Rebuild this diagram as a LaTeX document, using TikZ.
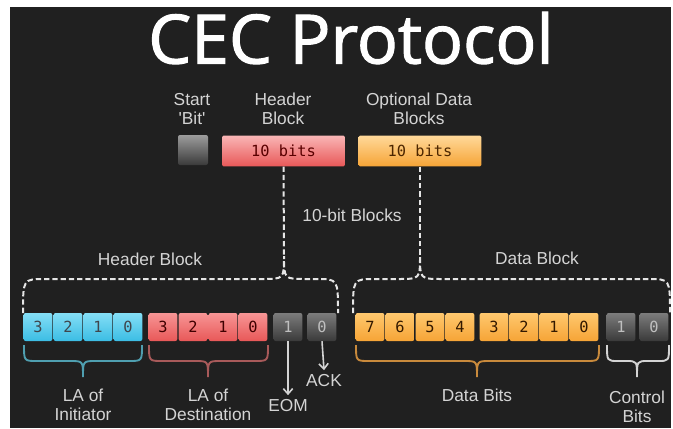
\documentclass[tikz,border=0pt]{standalone}
\usepackage{fontspec}
\setmainfont{Liberation Sans}
\setmonofont{DejaVu Sans Mono}
\newfontfamily\titlefont[FakeBold=1.6]{Open Sans}
\usepackage{tikz}
\usetikzlibrary{calc}
\usetikzlibrary{positioning}
\usetikzlibrary{arrows.meta}

\definecolor{bgdark}{HTML}{202020}
\definecolor{labelgray}{HTML}{D4D4D4}
\definecolor{cyantop}{HTML}{84DEF6}
\definecolor{cyanbot}{HTML}{3BBDE4}
\definecolor{redtop}{HTML}{F79595}
\definecolor{redbot}{HTML}{E85858}
\definecolor{orangetop}{HTML}{FFC86E}
\definecolor{orangebot}{HTML}{F6A436}
\definecolor{graytop}{HTML}{7C7C7C}
\definecolor{graybot}{HTML}{3A3A3A}
\definecolor{cyanbrace}{HTML}{4F9FB0}
\definecolor{redbrace}{HTML}{A85A5A}
\definecolor{orangebrace}{HTML}{C98A3C}

% left x, right x, tip x, end y, flat y, tip y, radius
\newcommand{\cbrace}[7]{(#1,#4) .. controls (#1,#5) .. ({#1+#7},#5) -- ({#3-#7},#5)
  .. controls (#3,#5) .. (#3,#6) .. controls (#3,#5) .. ({#3+#7},#5) -- ({#2-#7},#5)
  .. controls (#2,#5) .. (#2,#4)}

\begin{document}
\begin{tikzpicture}[x=0.75pt,y=-0.75pt,
  every node/.style={align=center,text=labelgray,font=\fontsize{13}{14.5}\selectfont},
  cell/.style={rounded corners=1.5pt,minimum width=21.5pt,minimum height=21pt,inner sep=0pt,
    font=\ttfamily\fontsize{11.5}{12}\selectfont},
  cyancell/.style={cell,top color=cyantop,bottom color=cyanbot,text=black!80!cyan},
  redcell/.style={cell,top color=redtop,bottom color=redbot,text=black!75!red},
  orangecell/.style={cell,top color=orangetop,bottom color=orangebot,text=black!80!orange},
  graycell/.style={cell,top color=graytop,bottom color=graybot,text=black!25},
  blockbox/.style={rounded corners=1pt,minimum width=92pt,minimum height=23pt,inner sep=0pt,
    font=\ttfamily\fontsize{11.5}{12}\selectfont},
  dashbrace/.style={draw=white!90!black,line width=1.5pt,dash pattern=on 4pt off 2.2pt},
  solidbrace/.style={line width=1.4pt},
  bitarrow/.style={draw=labelgray,line width=1.2pt,-{Straight Barb[length=4pt,width=7pt]}}]
\useasboundingbox (0,0) rectangle (673,428);
\fill[white] (0,0) rectangle (673,428);
\fill[bgdark] (10,7) rectangle (671,428);

\node[text=white,font=\titlefont\fontsize{51}{54}\selectfont] (title) at (351,38) {CEC Protocol};

\node (startlbl) at (192,109) {Start\\\textquotesingle Bit\textquotesingle};
\node (hdrlbl) at (283,109) {Header\\Block};
\node (optlbl) at (419,109) {Optional Data\\Blocks};

\node[cell,minimum width=22.5pt,minimum height=22.5pt,top color=graytop!75!white,bottom color=graybot] (start) at (193,150) {};
\node[blockbox,top color=redtop!70!white,bottom color=redbot,text=black!65!red] (hdr) at (283.5,151) {10 bits};
\node[blockbox,top color=orangetop!70!white,bottom color=orangebot,text=black!70!orange] (opt) at (420,151) {10 bits};

\coordinate (htip) at (284,256);
\coordinate (dtip) at (420,256);
\draw[dashbrace] (hdr.south) -- (htip);
\draw[dashbrace] (opt.south) -- (dtip);
\node (blocks) at (352,215) {10-bit Blocks};

\draw[dashbrace] \cbrace{23}{338}{284}{313}{279}{256}{22};
\draw[dashbrace] \cbrace{353}{670}{420}{313}{279}{256}{22};
\node (hdrblk) at (150,259) {Header Block};
\node (datablk) at (537,258) {Data Block};

\foreach \d [count=\i] in {3,2,1,0}
  \node[cyancell] (ini\i) at ({8+30*\i},327) {\d};
\foreach \d [count=\i] in {3,2,1,0}
  \node[redcell] (dst\i) at ({133+30*\i},327) {\d};
\node[graycell] (eom) at (288,327) {1};
\node[graycell] (ack) at (322,327) {0};
\foreach \d [count=\i] in {7,6,5,4}
  \node[orangecell] (dhi\i) at ({340+30*\i},327) {\d};
\foreach \d [count=\i] in {3,2,1,0}
  \node[orangecell] (dlo\i) at ({464+30*\i},327) {\d};
\node[graycell] (ctl1) at (621,327) {1};
\node[graycell] (ctl2) at (654,327) {0};

\draw[solidbrace,draw=cyanbrace] \cbrace{24}{142}{83}{345}{361}{377}{13};
\draw[solidbrace,draw=redbrace] \cbrace{149}{268}{208}{345}{361}{377}{13};
\draw[solidbrace,draw=orangebrace] \cbrace{356}{599}{477}{345}{361}{377}{13};
\draw[solidbrace,draw=labelgray] \cbrace{607}{669}{637}{345}{361}{377}{11};

\node (lainit) at (83,405) {LA of\\Initiator};
\node (ladest) at (208,405) {LA of\\Destination};
\node (eomlbl) at (288,406) {EOM};
\node (acklbl) at (324,381) {ACK};
\node (databits) at (477,395) {Data Bits};
\node (ctlbits) at (637,407) {Control\\Bits};
\draw[bitarrow] (eom.south) -- (eomlbl.north);
\draw[bitarrow] (ack.south) -- (acklbl.north);
\end{tikzpicture}
\end{document}
